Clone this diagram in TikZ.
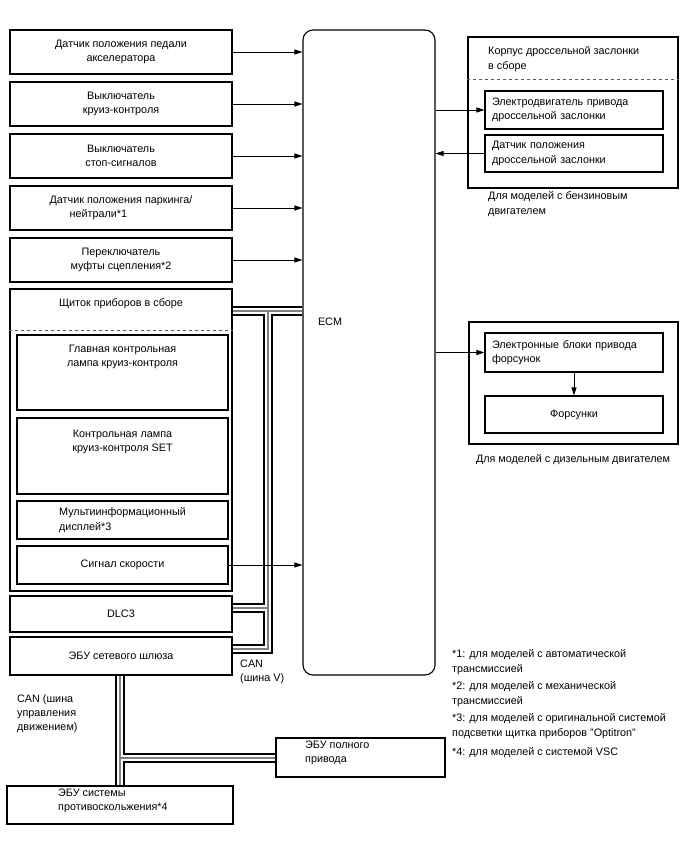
\documentclass[tikz,border=0pt]{standalone}
\usepackage{fontspec}
\setmainfont{Liberation Sans}
\usetikzlibrary{arrows.meta,backgrounds}
\begin{document}
\begin{tikzpicture}[x=1pt,y=-1pt,
  every node/.style={font=\fontsize{10.8}{14.3}\selectfont},
  box/.style={draw, line width=1.1pt, inner sep=0pt, align=center},
  lbox/.style={box, align=left, inner xsep=7pt},
  txt/.style={inner sep=0pt, align=left, anchor=west},
  arr/.style={line width=0.8pt, -{Triangle[length=8pt,width=5pt]}},
  sepline/.style={dashed, line width=0.8pt, gray!70!black},
  busblack/.style={line width=9.5pt, black, line cap=butt, line join=miter},
  buswhite/.style={line width=5.5pt, white, line cap=butt, line join=miter},
  busgray/.style={line width=1.5pt, gray, line cap=butt, line join=miter}]
\useasboundingbox (0,0) rectangle (688,852);

% left column
\node[box, minimum width=222pt, minimum height=44pt] (b1) at (121,52) {Датчик положения педали\\акселератора};
\node[box, minimum width=222pt, minimum height=44pt] (b2) at (121,104) {Выключатель\\круиз-контроля};
\node[box, minimum width=222pt, minimum height=44pt] (b3) at (121,156) {Выключатель\\стоп-сигналов};
\node[box, minimum width=222pt, minimum height=44pt, align=left] (b4) at (121,208) {Датчик положения паркинга/\\\hspace*{20pt}нейтрали*1};
\node[box, minimum width=222pt, minimum height=44pt] (b5) at (121,260) {Переключатель\\муфты сцепления*2};

\node[box, minimum width=222pt, minimum height=302pt,
  label={[anchor=north, inner sep=0pt, yshift=-10pt]north:Щиток приборов в сборе}] (shch) at (121,440) {};
\draw[sepline] (shch.west |- 0,330) -- (shch.east |- 0,330);
\node[box, minimum width=211pt, minimum height=75pt,
  label={[anchor=north, align=center, inner sep=0pt, yshift=-10pt]north:Главная контрольная\\лампа круиз-контроля}] (g1) at (122.5,372.5) {};
\node[box, minimum width=211pt, minimum height=76pt,
  label={[anchor=north, align=center, inner sep=0pt, yshift=-12pt]north:Контрольная лампа\\круиз-контроля SET}] (g2) at (122.5,456) {};
\node[box, minimum width=211pt, minimum height=38pt, align=left] (g3) at (122.5,520) {Мультиинформационный\\дисплей*3};
\node[box, minimum width=211pt, minimum height=38pt] (g4) at (122.5,565) {Сигнал скорости};

\node[box, minimum width=222pt, minimum height=36pt] (dlc) at (121,614) {DLC3};
\node[box, minimum width=222pt, minimum height=38pt] (gw) at (121,656) {ЭБУ сетевого шлюза};

% ECM
\node[draw, line width=1.1pt, rounded corners=10pt, minimum width=132pt, minimum height=645pt, inner sep=0pt] (ecm) at (369,352.5) {};
\node[inner sep=0pt] (ecmt) at (330,322) {ECM};

% throttle body
\node[box, minimum width=210pt, minimum height=151pt] (thr) at (573,112.5) {};
\node[txt] (thrt) at (488,59) {Корпус дроссельной заслонки\\в сборе};
\draw[sepline] (thr.west |- 0,79) -- (thr.east |- 0,79);
\node[lbox, minimum width=178pt, minimum height=38pt, text width=164pt] (t1) at (574,110) {Электродвигатель привода\\дроссельной заслонки};
\node[lbox, minimum width=178pt, minimum height=37pt, text width=164pt] (t2) at (574,153.5) {Датчик положения\\дроссельной заслонки};
\node[txt] (thrc) at (488,204) {Для моделей с бензиновым\\двигателем};

% diesel
\node[box, minimum width=209pt, minimum height=122pt] (dsl) at (573.5,383) {};
\node[lbox, minimum width=178pt, minimum height=39pt, text width=164pt, inner xsep=5pt] (d1) at (574,352.5) {Электронные блоки привода\\форсунок};
\node[box, minimum width=178pt, minimum height=37pt] (d2) at (574,414.5) {Форсунки};
\node[inner sep=0pt] (dslc) at (573,460) {Для моделей с дизельным двигателем};

% bottom
\node[box, minimum width=169pt, minimum height=39pt] (awd) at (360.5,757.5) {};
\node[txt] (awdt) at (305,753) {ЭБУ полного\\привода};
\node[box, minimum width=226pt, minimum height=38pt] (esp) at (120,805) {};
\node[txt] (espt) at (58,800.5) {ЭБУ системы\\противоскольжения*4};

\node[txt] (canv) at (240,671.5) {CAN\\(шина V)};
\node[txt] (canm) at (17,713.5) {CAN (шина\\управления\\движением)};

% footnotes
\node[txt] (f1) at (452,662) {*1: для моделей с автоматической\\трансмиссией};
\node[txt] (f2) at (452,694) {*2: для моделей с механической\\трансмиссией};
\node[txt] (f3) at (452,726) {*3: для моделей с оригинальной системой\\подсветки щитка приборов "Optitron"};
\node[txt] (f4) at (452,753) {*4: для моделей с системой VSC};

% arrows
\foreach \n in {b1,b2,b3,b4,b5,g4}
  \draw[arr] (\n.east) -- (\n.east -| ecm.west);
\draw[arr] (ecm.east |- t1.west) -- (t1.west);
\draw[arr] (t2.west) -- (ecm.east |- t2.west);
\draw[arr] (ecm.east |- d1.west) -- (d1.west);
\draw[arr] (d1.south) -- (d2.north);

% buses
\coordinate (j1) at (268,311);
\coordinate (j2) at (268,649);
\coordinate (j3) at (268,608);
\coordinate (k1) at (120,758);
\begin{scope}[on background layer]
\foreach \s in {busblack,buswhite,busgray}{
  \draw[\s] (shch.east |- j1) -- (ecm.west |- j1);
  \draw[\s] (j1) -- (j2) -- (gw.east |- j2);
  \draw[\s] (dlc.east |- j3) -- (j3);
  \draw[\s] (gw.south -| k1) -- (esp.north -| k1);
  \draw[\s] (k1) -- (awd.west |- k1);
}
\end{scope}
\end{tikzpicture}
\end{document}
